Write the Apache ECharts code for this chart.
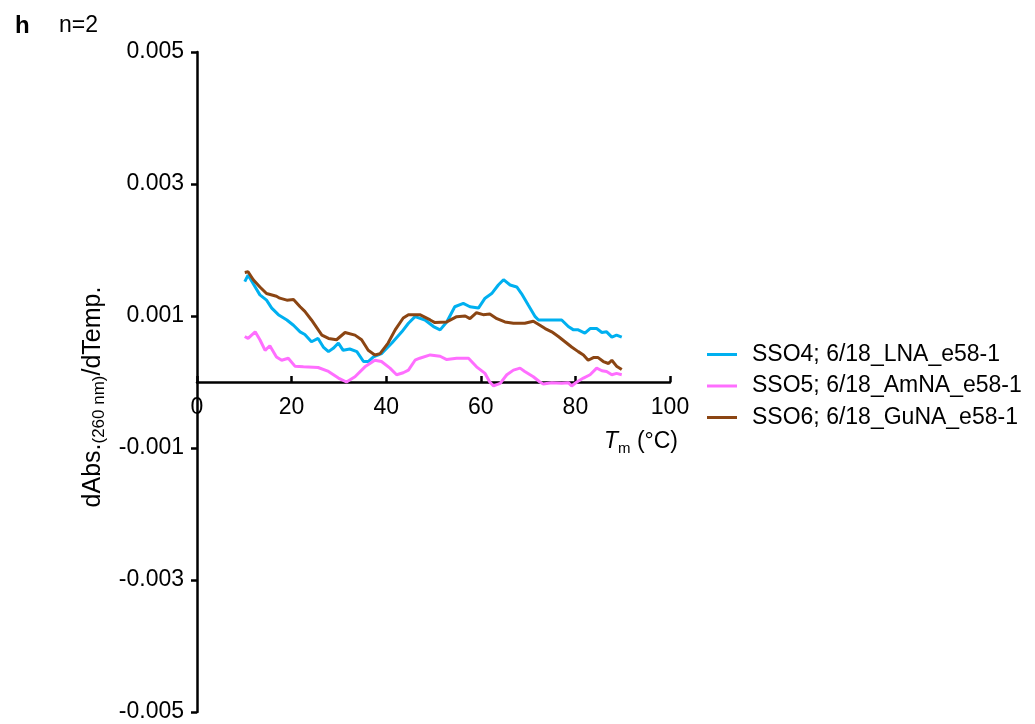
<!DOCTYPE html>
<html>
<head>
<meta charset="utf-8">
<script src="https://cdn.jsdelivr.net/npm/echarts@6/dist/echarts.min.js"></script>
<style>html,body{margin:0;padding:0;background:#fff}#chart{width:1035px;height:724px}</style>
</head>
<body>
<div id="chart"></div>
<script>
const seriesNames = ['SSO4; 6/18_LNA_e58-1', 'SSO5; 6/18_AmNA_e58-1', 'SSO6; 6/18_GuNA_e58-1'];
const xTicks = [0, 20, 40, 60, 80, 100];
const yTicks = [-0.005, -0.003, -0.001, 0.001, 0.003, 0.005];

const sso4Temp = [10.1,10.8,12.3,13.3,14.7,15.8,17.2,19.0,20.4,21.8,22.8,24.2,25.6,26.7,27.8,28.8,29.9,30.9,32.3,33.8,35.2,36.2,37.3,39.0,41.2,43.3,44.7,46.1,48.2,50.0,51.4,52.8,54.5,56.3,57.7,59.5,60.9,62.3,63.7,64.8,66.2,67.6,68.6,70.0,71.5,72.2,77.1,78.5,79.6,80.6,82.0,83.1,84.5,85.6,86.6,87.7,88.7,89.8];
const sso4Val = [0.00152,0.00162,0.00144,0.00132,0.00124,0.00112,0.00102,0.00094,0.00086,0.00076,0.00072,0.00061,0.00066,0.00053,0.00046,0.00051,0.00059,0.00048,0.00050,0.00046,0.00031,0.00031,0.00038,0.00043,0.00059,0.00076,0.00089,0.00099,0.00094,0.00084,0.00079,0.00091,0.00114,0.00119,0.00114,0.00112,0.00127,0.00134,0.00147,0.00155,0.00147,0.00144,0.00134,0.00117,0.00099,0.00094,0.00094,0.00084,0.00079,0.00079,0.00074,0.00081,0.00081,0.00075,0.00076,0.00068,0.00071,0.00068];

const sso5Temp = [10.1,10.8,12.3,13.3,14.4,15.4,16.8,17.9,19.3,20.7,22.5,25.6,27.8,29.9,31.6,33.4,35.5,37.6,39.0,40.8,42.2,43.6,44.7,46.1,47.1,49.3,51.4,52.8,54.9,57.4,59.1,60.9,61.9,62.7,64.1,65.5,66.9,68.3,69.3,71.1,72.5,73.2,75.0,77.1,78.5,79.2,80.3,81.7,83.1,84.5,85.6,86.6,87.7,88.7,89.8];
const sso5Val = [0.00069,0.00066,0.00076,0.00064,0.00048,0.00055,0.00038,0.00033,0.00036,0.00024,0.00023,0.00022,0.00016,0.00006,0.00000,0.00008,0.00023,0.00033,0.00031,0.00021,0.00011,0.00014,0.00018,0.00033,0.00036,0.00041,0.00039,0.00034,0.00036,0.00036,0.00023,0.00013,0.00000,-0.00006,-0.00002,0.00011,0.00018,0.00021,0.00016,0.00008,0.00000,-0.00003,-0.00001,-0.00002,-0.00001,-0.00006,0.00000,0.00006,0.00011,0.00021,0.00017,0.00016,0.00011,0.00013,0.00011];

const sso6Temp = [10.1,10.8,11.9,13.3,14.7,16.8,17.5,19.0,20.4,21.8,22.8,24.2,26.4,27.8,29.5,31.3,33.4,34.8,36.2,37.6,38.7,40.4,41.9,43.6,44.7,47.1,49.3,50.3,52.8,54.9,56.7,57.7,59.1,60.5,61.9,63.4,65.1,66.9,69.3,71.1,72.5,73.6,75.0,76.4,77.8,79.2,80.6,81.7,82.7,83.8,84.8,85.9,87.0,87.7,88.7,89.8];
const sso6Val = [0.00166,0.00167,0.00155,0.00144,0.00134,0.00130,0.00127,0.00124,0.00125,0.00114,0.00107,0.00094,0.00071,0.00066,0.00064,0.00075,0.00071,0.00064,0.00048,0.00041,0.00043,0.00059,0.00079,0.00097,0.00102,0.00102,0.00094,0.00090,0.00091,0.00099,0.00100,0.00096,0.00105,0.00102,0.00103,0.00096,0.00091,0.00089,0.00089,0.00092,0.00086,0.00081,0.00076,0.00069,0.00061,0.00053,0.00046,0.00041,0.00033,0.00037,0.00037,0.00031,0.00028,0.00033,0.00024,0.00019];

const colors = ['#00B0F0', '#FF6EFF', '#8B4513'];
const temps = [sso4Temp, sso5Temp, sso6Temp];
const vals = [sso4Val, sso5Val, sso6Val];

const FONT = "'Liberation Sans', Arial, sans-serif";
const FS = 23;
const chart = echarts.init(document.getElementById('chart'), null, {renderer: 'canvas'});

const GRID_TOP = 52, GRID_BOTTOM = 12, H = 724;
const plotH = H - GRID_TOP - GRID_BOTTOM;
const yMin = yTicks[0], yMax = yTicks[yTicks.length - 1];
// move the x axis (line, ticks, labels) up to y = 0
const xAxisOffset = -plotH * (0 - yMin) / (yMax - yMin);

const series = seriesNames.map((name, i) => ({
  name: name,
  type: 'line',
  data: temps[i].map((t, k) => [t, vals[i][k]]),
  symbol: 'none',
  smooth: false,
  lineStyle: {color: colors[i], width: 3},
  itemStyle: {color: colors[i]},
  z: 3 + i
}));

chart.setOption({
  animation: false,
  backgroundColor: '#ffffff',
  textStyle: {fontFamily: FONT},
  grid: {left: 197, right: 365, top: GRID_TOP, bottom: GRID_BOTTOM, containLabel: false},
  xAxis: {
    type: 'value',
    min: xTicks[0],
    max: xTicks[xTicks.length - 1],
    interval: 20,
    offset: xAxisOffset,
    axisLine: {onZero: false, lineStyle: {color: '#000', width: 2.5}},
    axisTick: {show: true, inside: true, length: 6, lineStyle: {color: '#000', width: 2.5}},
    axisLabel: {color: '#000', fontSize: FS, fontFamily: FONT, margin: 14},
    splitLine: {show: false}
  },
  yAxis: {
    type: 'value',
    min: yMin,
    max: yMax,
    interval: 0.002,
    axisLine: {show: true, onZero: false, lineStyle: {color: '#000', width: 2.5}},
    axisTick: {show: true, inside: false, length: 6, lineStyle: {color: '#000', width: 2.5}},
    axisLabel: {color: '#000', fontSize: FS, fontFamily: FONT, margin: 13,
      formatter: v => v.toFixed(3)},
    splitLine: {show: false}
  },
  legend: {
    orient: 'vertical',
    left: 702,
    top: 338,
    icon: 'rect',
    itemWidth: 30,
    itemHeight: 3,
    itemGap: 8.5,
    textStyle: {color: '#000', fontSize: FS, fontFamily: FONT, lineHeight: 23, padding: [0, 0, 0, 10]},
    data: seriesNames
  },
  graphic: [
    {type: 'text', x: 15, y: 26, style: {text: 'h', font: "bold 24px " + FONT, fill: '#000', verticalAlign: 'middle'}},
    {type: 'text', x: 59, y: 26, style: {text: 'n=2', font: FS + "px " + FONT, fill: '#000', verticalAlign: 'middle'}},
    {
      type: 'text',
      x: 93, y: 397,
      rotation: Math.PI / 2,
      style: {
        text: '{a|dAbs.}{s|(260 nm)}{a|/dTemp.}',
        align: 'center', verticalAlign: 'middle',
        rich: {
          a: {fontSize: 25, fontFamily: FONT, fill: '#000', lineHeight: 30, verticalAlign: 'middle'},
          s: {fontSize: 17, fontFamily: FONT, fill: '#000', lineHeight: 17, verticalAlign: 'bottom'}
        }
      }
    },
    {
      type: 'text',
      x: 641, y: 442,
      style: {
        text: '{i|T}{s|m}{a| (°C)}',
        align: 'center', verticalAlign: 'middle',
        rich: {
          i: {fontSize: FS, fontFamily: FONT, fontStyle: 'italic', fill: '#000', lineHeight: 28, verticalAlign: 'middle'},
          a: {fontSize: FS, fontFamily: FONT, fill: '#000', lineHeight: 28, verticalAlign: 'middle'},
          s: {fontSize: 15, fontFamily: FONT, fill: '#000', lineHeight: 15, verticalAlign: 'bottom'}
        }
      }
    }
  ],
  series: series
});
</script>
</body>
</html>
